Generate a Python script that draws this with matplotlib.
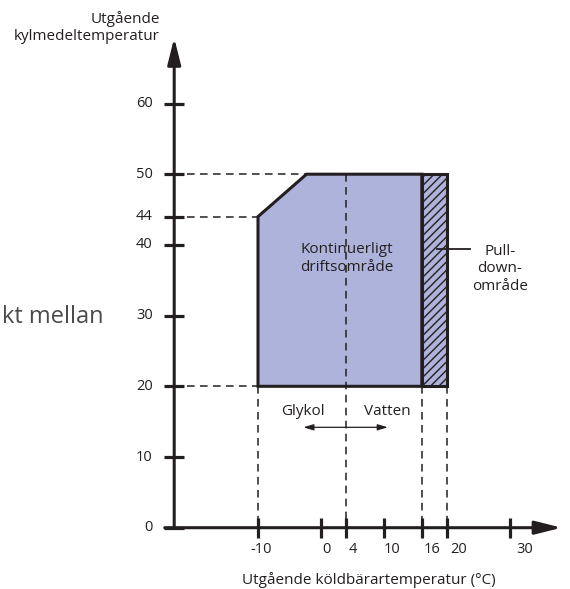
import matplotlib
matplotlib.use("Agg")
import matplotlib.pyplot as plt
from matplotlib.patches import Polygon, Rectangle

plt.rcParams['font.family'] = ['Open Sans', 'DejaVu Sans']
plt.rcParams['hatch.linewidth'] = 1.0

# ---- data ----
x_ticks = [-10, 0, 4, 10, 16, 20, 30]
y_ticks = [0, 10, 20, 30, 40, 44, 50, 60]
# continuous operating envelope (leaving coolant temp vs leaving brine temp)
envelope_x = [-10, -10, -2.3, 16, 16]
envelope_y = [20, 44, 50, 50, 20]
# pull-down area
pulldown_x = [16, 20]
pulldown_y = [20, 50]
# glycol / water boundary
boundary_x = 4
x_label = "Utgående köldbärartemperatur (°C)"
y_label = "Utgående\nkylmedeltemperatur"

TXT = '#231f20'
FILL = '#adb3da'

fig = plt.figure(figsize=(5.70, 5.89), dpi=100)
ax = fig.add_axes([0, 0, 1, 1])
ax.set_xlim(-50.95, 39.52)
ax.set_ylim(-8.67, 74.64)
ax.axis('off')

y_axis_x = -23.3
x_axis_start = -24.8

# axes with arrows
arrow_style = '-|>,head_length=0.4,head_width=0.1'
ax.annotate('', xy=(38.2, 0), xytext=(x_axis_start, 0),
            arrowprops=dict(arrowstyle=arrow_style, lw=2.2, color=TXT,
                            mutation_scale=40, shrinkA=0, shrinkB=0))
ax.annotate('', xy=(y_axis_x, 69.3), xytext=(y_axis_x, 0),
            arrowprops=dict(arrowstyle=arrow_style, lw=2.2, color=TXT,
                            mutation_scale=40, shrinkA=0, shrinkB=0))

# ticks
ax.plot([y_axis_x] * len(y_ticks), y_ticks, ls='none', marker='_',
        markersize=14.4, mew=2.3, color=TXT, zorder=5)
ax.plot(x_ticks, [0] * len(x_ticks), ls='none', marker='|',
        markersize=14.4, mew=2.3, color=TXT, zorder=5)

for v in y_ticks:
    ax.text(-26.7, v, str(v), ha='right', va='center', fontsize=10.5, color=TXT)
for v in x_ticks:
    ax.text(v * 1.045 + 0.9, -3.15, str(v), ha='center', va='center',
            fontsize=10.5, color=TXT)

# dashed guide lines
dash = dict(color=TXT, lw=1.1, ls=(0, (5, 3.5)))
ax.plot([y_axis_x, envelope_x[2]], [50, 50], zorder=2, **dash)
ax.plot([y_axis_x, -10], [44, 44], zorder=2, **dash)
ax.plot([y_axis_x, -10], [20, 20], zorder=2, **dash)
ax.plot([boundary_x, boundary_x], [50, 0], zorder=4, **dash)
for xv in [-10, 16, 20]:
    ax.plot([xv, xv], [20, 0], zorder=2, **dash)

# envelope
ax.add_patch(Polygon(list(zip(envelope_x, envelope_y)), closed=True,
                     facecolor=FILL, edgecolor=TXT, lw=2.2,
                     joinstyle='miter', zorder=3))
ax.add_patch(Rectangle((pulldown_x[0], pulldown_y[0]),
                       pulldown_x[1] - pulldown_x[0],
                       pulldown_y[1] - pulldown_y[0],
                       facecolor=FILL, edgecolor=TXT, hatch='////', lw=2.2,
                       joinstyle='miter', zorder=3))

# texts
ax.text(4.1, 38.1, "Kontinuerligt\ndriftsområde", ha='center', va='center',
        fontsize=11, color=TXT, linespacing=1.25, zorder=6)
ax.plot([18.4, 23.7], [39.4, 39.4], color=TXT, lw=1.3, zorder=6)
ax.text(28.4, 36.6, "Pull-\ndown-\nområde", ha='center', va='center',
        fontsize=11, color=TXT, linespacing=1.25)
ax.text(-2.9, 16.5, "Glykol", ha='center', va='center', fontsize=11, color=TXT)
ax.text(10.6, 16.5, "Vatten", ha='center', va='center', fontsize=11, color=TXT)
ax.annotate('', xy=(-2.8, 14.2), xytext=(10.6, 14.2),
            arrowprops=dict(arrowstyle='<|-|>,head_length=0.5,head_width=0.15',
                            lw=0.9, color=TXT, mutation_scale=12,
                            shrinkA=0, shrinkB=0))

ax.text(7.6, -7.4, x_label, ha='center', va='center', fontsize=11, color=TXT)
ax.text(-25.6, 70.8, y_label, ha='right', va='center', fontsize=11,
        color=TXT, linespacing=1.2, multialignment='right')

ax.text(-34.6, 28.95, "kt mellan", ha='right', va='baseline', fontsize=17,
        color='#4a4a4a')

fig.savefig('out.png', dpi=100)
